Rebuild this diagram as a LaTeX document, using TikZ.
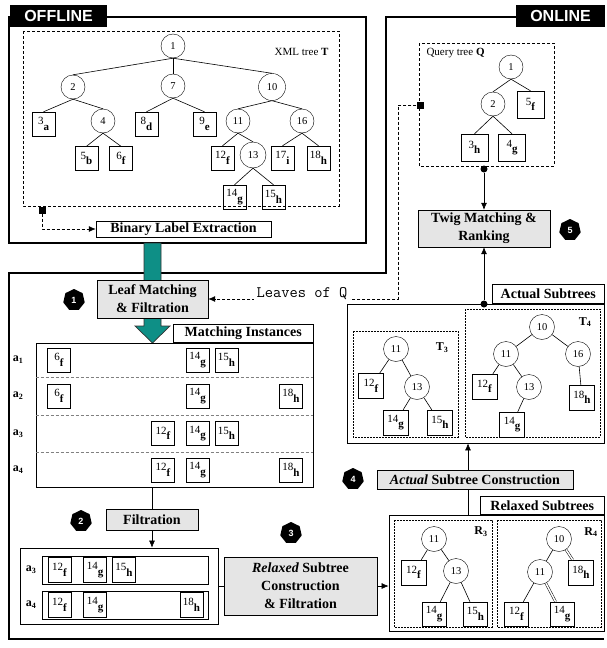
\documentclass[tikz,border=0pt]{standalone}
\usepackage{fontspec}
\setmainfont{Liberation Serif}
\newfontfamily\hdfont{Liberation Sans}
\usetikzlibrary{positioning,arrows.meta,shapes.geometric}
\definecolor{arrteal}{HTML}{0E8F86}
\newcommand\fs[2]{\fontsize{#1}{#2}\selectfont}
\newcommand\leafl[2]{\raisebox{0.3ex}{#1}\raisebox{-0.8ex}{\textbf{#2}}}
\newcommand\subl[2]{\textbf{#1}\textsubscript{\textbf{#2}}}

\begin{document}
\begin{tikzpicture}[x=1pt,y=-1pt,
  inode/.style={circle,draw,minimum size=24pt,inner sep=0pt,font=\fs{10.5}{12}},
  lnode/.style={draw,minimum width=23pt,minimum height=24pt,inner sep=0pt,font=\fs{11}{12}},
  proc/.style={draw,fill=gray!20,font=\bfseries\fs{14}{18},align=center,inner sep=1pt},
  tabbox/.style={draw,fill=white,font=\bfseries\fs{14}{17},inner sep=1pt,anchor=south east},
  badge/.style={regular polygon,regular polygon sides=7,fill=black,text=white,font=\hdfont\bfseries\fs{9}{10},inner sep=0pt,minimum size=22pt},
  outline/.style={line width=1.2pt},
  dbox/.style={dash pattern=on 3pt off 2pt,line width=0.8pt},
  sbox/.style={dash pattern=on 2pt off 1pt,line width=0.6pt},
  link/.style={line width=0.6pt},
  arr/.style={-{Latex[length=7pt,width=6pt]}},
  dot/.style={circle,fill=black,inner sep=0pt,minimum size=7pt},
  sqmark/.style={fill=black,inner sep=0pt,minimum size=7pt},
  rowlab/.style={font=\fs{12}{14}},
  hdlabel/.style={fill=black,text=white,font=\hdfont\bfseries\fs{16}{18},minimum height=22pt,inner sep=0pt}
]
\useasboundingbox (0,0) rectangle (607,648);

% frames
\draw[outline] (9,17) rectangle (366,243);
\draw[outline] (516,17) -- (386,17) -- (386,273) -- (9,273) -- (9,639) -- (604,639);
\node[hdlabel,minimum width=97pt] (offl) at (58.5,16) {OFFLINE};
\node[hdlabel,minimum width=89pt] (onl) at (560.5,16) {ONLINE};

% XML tree T
\draw[dbox] (23,31) rectangle (339,206);
\node[anchor=east,font=\fs{11}{13}] (tlab) at (332,52) {XML tree \textbf{T}};
\node[inode] (t1) at (173,46) {1};
\node[inode] (t2) at (73,87) {2};
\node[inode] (t7) at (173,86) {7};
\node[inode,minimum size=27pt] (t10) at (272,87) {10};
\node[lnode] (t3) at (43.5,124) {\leafl{3}{a}};
\node[inode] (t4) at (103,121) {4};
\node[lnode] (t8) at (146.5,124) {\leafl{8}{d}};
\node[lnode] (t9) at (204.5,124) {\leafl{9}{e}};
\node[inode] (t11) at (238,121) {11};
\node[inode] (t16) at (302,121) {16};
\node[lnode] (t5) at (86.5,158.5) {\leafl{5}{b}};
\node[lnode] (t6) at (121,158.5) {\leafl{6}{f}};
\node[lnode] (t12) at (222.5,158) {\leafl{12}{f}};
\node[inode,minimum size=26pt] (t13) at (253,155) {13};
\node[lnode] (t17) at (282.5,158) {\leafl{17}{i}};
\node[lnode] (t18) at (318.5,158) {\leafl{18}{h}};
\node[lnode] (t14) at (234.5,197) {\leafl{14}{g}};
\node[lnode] (t15) at (273.5,197) {\leafl{15}{h}};
\foreach \p/\c in {t1/t2,t1/t7,t1/t10,t2/t3,t2/t4,t4/t5,t4/t6,t7/t8,t7/t9,
  t10/t11,t10/t16,t11/t12,t11/t13,t13/t14,t13/t15,t16/t17,t16/t18}
  \draw[link] (\p.south) -- (\c.north);

\node[draw,font=\bfseries\fs{14}{17},minimum width=175pt,minimum height=16pt,inner sep=0pt] (ble) at (183.5,229) {Binary Label Extraction};
\node[sqmark] (tsq) at (42,210) {};
\draw[dbox,arr] (tsq) |- (ble.west);

% query tree Q
\draw[dbox] (419,43) rectangle (554,166);
\node[anchor=west,font=\fs{11}{13}] (qlab) at (423,53) {Query tree \textbf{Q}};
\node[inode] (q1) at (511,67) {1};
\node[inode] (q2) at (493,104) {2};
\node[lnode,minimum size=27pt] (q5) at (530.5,104.5) {\leafl{5}{f}};
\node[lnode,minimum size=27pt] (q3) at (474.5,147.5) {\leafl{3}{h}};
\node[lnode,minimum size=27pt] (q4) at (512,147.5) {\leafl{4}{g}};
\foreach \p/\c in {q1/q2,q1/q5,q2/q3,q2/q4}
  \draw[link] (\p.south) -- (\c.north);
\node[sqmark] (qsq) at (420,105) {};
\coordinate (qcor) at (398,105);

\node[proc,minimum width=132pt,minimum height=37pt] (twig) at (484,228.5) {Twig Matching \&\\Ranking};
\node[badge] (b5) at (570,230) {5};
\node[dot] (qdot) at (484,169) {};
\draw[link,arr] (qdot) -- (twig.north);

% teal block arrow, under the leaf matching box
\filldraw[fill=arrteal,draw=black!80,line width=0.7pt] (144,243) -- (161,243) -- (161,326) -- (170,326) -- (152.5,343) -- (135,326) -- (144,326) -- cycle;

% leaf matching
\node[proc,minimum width=111pt,minimum height=38pt] (leaf) at (152.5,299) {Leaf Matching\\\& Filtration};
\node[badge] (b1) at (74,300) {1};
\draw[dbox,arr] (qsq) -- (qcor) |- (leaf.east);
\node[fill=white,inner sep=3pt,font=\ttfamily\fs{16}{18}] (lq) at (302,294) {Leaves of Q};

% matching instances
\node[draw,line width=0.8pt,minimum width=277pt,minimum height=144pt] (match) at (174.5,415) {};
\node[tabbox,minimum width=140pt,minimum height=18pt] (mtab) at (match.north east) {Matching Instances};
\foreach \y in {377,415,452}
  \draw[dbox,gray] (match.west |- 0,\y) -- (match.east |- 0,\y);
\foreach \l/\y in {1/360,2/396,3/433.5,4/470}
  \node[rowlab] (ml\l) at (18,\y) {\subl{a}{\l}};
\foreach \a/\b/\x/\y [count=\i] in {6/f/59/360,14/g/197.5/360,15/h/226.5/360,
  6/f/59/396,14/g/197.5/396,18/h/291/396,
  12/f/163/433.5,14/g/197.5/433.5,15/h/226.5/433.5,
  12/f/163/470,14/g/197.5/470,18/h/291/470}
  \node[lnode] (mi\i) at (\x,\y) {\leafl{\a}{\b}};

% filtration
\node[proc,minimum width=92pt,minimum height=21pt] (filtr) at (152,520) {Filtration};
\node[badge] (b2) at (81,521) {2};
\draw[link] (match.south -| filtr) -- (filtr.north);
\node[draw,line width=0.8pt,minimum width=198pt,minimum height=76pt] (filt) at (119,586) {};
\draw[link,arr] (filtr.south) -- (filt.north -| filtr);
\node[draw,minimum width=166pt,minimum height=28pt] (row3) at (125,570) {};
\node[draw,minimum width=166pt,minimum height=28pt] (row4) at (125,605) {};
\node[rowlab] (fl3) at (31,570) {\subl{a}{3}};
\node[rowlab] (fl4) at (31,605) {\subl{a}{4}};
\foreach \a/\b/\x/\y [count=\i] in {12/f/59.5/570,14/g/95/570,15/h/124/570,
  12/f/59.5/605,14/g/95/605,18/h/191.5/605}
  \node[lnode,minimum height=25pt] (fi\i) at (\x,\y) {\leafl{\a}{\b}};

% relaxed subtree construction
\node[badge] (b3) at (291,533) {3};
\node[proc,minimum width=153pt,minimum height=58pt] (rsc) at (300.5,586) {\textit{Relaxed} Subtree\\Construction\\\& Filtration};
\draw[link] (filt.east |- rsc.west) -- (rsc.west);

% relaxed subtrees
\node[draw,line width=0.8pt,minimum width=215pt,minimum height=116pt] (rel) at (496.5,573) {};
\node[tabbox,minimum width=124pt,minimum height=18pt] (rtab) at (rel.north east) {Relaxed Subtrees};
\draw[link,arr] (rsc.east) -- (rsc.east -| rel.west);
\draw[sbox] (394,520) rectangle (492,627);
\draw[sbox] (497,520) rectangle (601,627);
\node[font=\bfseries\fs{12}{14}] (r3lab) at (481,532) {R\textsubscript{3}};
\node[font=\bfseries\fs{12}{14}] (r4lab) at (591,532) {R\textsubscript{4}};
\node[inode,minimum size=25pt] (r11) at (434,539) {11};
\node[lnode,minimum size=25pt] (r12) at (413.5,572.5) {\leafl{12}{f}};
\node[inode,minimum size=25pt] (r13) at (456,571) {13};
\node[lnode,minimum size=24pt] (r14) at (434,614) {\leafl{14}{g}};
\node[lnode,minimum size=24pt] (r15) at (475.5,614) {\leafl{15}{h}};
\foreach \p/\c in {r11/r12,r11/r13,r13/r14,r13/r15}
  \draw[link] (\p) -- (\c);
\node[inode,minimum size=25pt] (s10) at (559,539) {10};
\node[inode,minimum size=25pt] (s11) at (540,572) {11};
\node[lnode,minimum size=25pt] (s18) at (581,572.5) {\leafl{18}{h}};
\node[lnode,minimum size=24pt] (s12) at (516.5,614) {\leafl{12}{f}};
\node[lnode,minimum size=24pt] (s14) at (562,614) {\leafl{14}{g}};
\draw[link] (s10) -- (s11);
\draw[link] (s11) -- (s12);
\draw[double,double distance=1.5pt,line width=0.5pt] (s10) -- (s18);
\draw[double,double distance=1.5pt,line width=0.5pt] (s11) -- (s14);

% actual subtrees
\node[draw,line width=0.8pt,minimum width=257pt,minimum height=139pt] (act) at (475.5,373.5) {};
\node[tabbox,minimum width=112pt,minimum height=19pt] (atab) at (act.north east) {Actual Subtrees};
\draw[sbox] (353,331) rectangle (458,437);
\draw[sbox] (465,309) rectangle (600,437);
\node[font=\bfseries\fs{12}{14}] (t3lab) at (442,348) {T\textsubscript{3}};
\node[font=\bfseries\fs{12}{14}] (t4lab) at (585,322) {T\textsubscript{4}};
\node[inode,minimum size=25pt] (a11) at (396,349) {11};
\node[lnode,minimum size=25pt] (a12) at (371,386) {\leafl{12}{f}};
\node[inode,minimum size=25pt] (a13) at (417,387) {13};
\node[lnode,minimum size=25pt] (a14) at (395.5,422.5) {\leafl{14}{g}};
\node[lnode,minimum size=25pt] (a15) at (440,422.5) {\leafl{15}{h}};
\foreach \p/\c in {a11/a12,a11/a13,a13/a14,a13/a15}
  \draw[link] (\p) -- (\c);
\node[inode,minimum size=25pt] (b10) at (542,327) {10};
\node[inode,minimum size=25pt] (b11) at (506,354) {11};
\node[inode,minimum size=25pt] (b16) at (578,354) {16};
\node[lnode,minimum size=25pt] (b12) at (484.5,386.5) {\leafl{12}{f}};
\node[inode,minimum size=25pt] (b13) at (529,387) {13};
\node[lnode,minimum size=25pt] (b14) at (512,424.5) {\leafl{14}{g}};
\node[lnode,minimum size=25pt] (b18) at (582,397.5) {\leafl{18}{h}};
\foreach \p/\c in {b10/b11,b10/b16,b11/b12,b11/b13,b13/b14,b16/b18}
  \draw[link] (\p) -- (\c);
\node[dot] (adot) at (484,304) {};
\draw[link,arr] (adot) -- (twig.south);

% actual subtree construction
\node[proc,minimum width=196pt,minimum height=19pt] (asc) at (475,479.5) {\textit{Actual} Subtree Construction};
\node[badge] (b4) at (353,479) {4};
\coordinate (ascx) at (468,0);
\draw[link,arr] (asc.north -| ascx) -- (act.south -| ascx);
\draw[link] (asc.south -| ascx) -- (rel.north -| ascx);
\end{tikzpicture}
\end{document}
